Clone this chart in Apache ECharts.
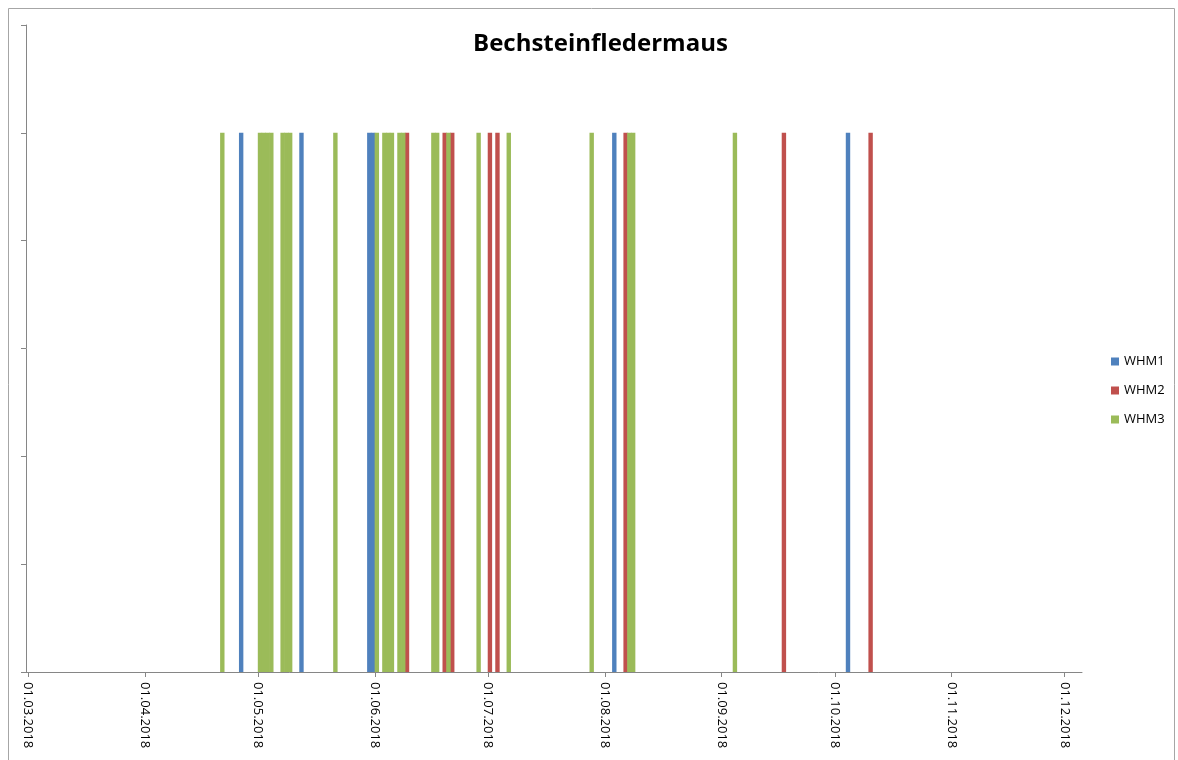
<!DOCTYPE html>
<html>
<head>
<meta charset="utf-8">
<title>Bechsteinfledermaus</title>
<script src="https://cdn.jsdelivr.net/npm/echarts@6/dist/echarts.min.js"></script>
<style>
  html, body {
    margin: 0;
    padding: 0;
    background: #fff;
  }
  #main {
    width: 1178px;
    height: 760px;
  }
</style>
</head>
<body>
<div id="main"></div>
<script>
// Nachweistage je Standort (Tag mit Nachweis = 1)
const whm1Dates = ["2018-04-26", "2018-05-12", "2018-05-30", "2018-05-31", "2018-08-03", "2018-10-04"];
const whm1Values = [1, 1, 1, 1, 1, 1];

const whm2Dates = ["2018-06-09", "2018-06-19", "2018-06-21", "2018-07-01", "2018-07-03", "2018-08-06", "2018-09-17", "2018-10-10"];
const whm2Values = [1, 1, 1, 1, 1, 1, 1, 1];

const whm3Dates = [
  "2018-04-21", "2018-05-01", "2018-05-02", "2018-05-03", "2018-05-04",
  "2018-05-07", "2018-05-08", "2018-05-09", "2018-05-21", "2018-06-01",
  "2018-06-03", "2018-06-04", "2018-06-05", "2018-06-07", "2018-06-08",
  "2018-06-16", "2018-06-17", "2018-06-20", "2018-06-28", "2018-07-06",
  "2018-07-28", "2018-08-07", "2018-08-08", "2018-09-04"
];
const whm3Values = [1, 1, 1, 1, 1, 1, 1, 1, 1, 1, 1, 1, 1, 1, 1, 1, 1, 1, 1, 1, 1, 1, 1, 1];

const seriesNames = ["WHM1", "WHM2", "WHM3"];
const seriesColors = ["#4F81BD", "#C0504D", "#9BBB59"];

const axisMin = "2018-03-01";
const axisMax = "2018-12-05";

// Balken sitzen mitten im Tag (wie in Excel)
function toPoints(dates, values) {
  return dates.map(function (d, i) {
    const p = d.split("-");
    return [new Date(+p[0], +p[1] - 1, +p[2], 12).getTime(), values[i]];
  });
}

function dayStart(d) {
  const p = d.split("-");
  return new Date(+p[0], +p[1] - 1, +p[2]).getTime();
}

function pad(n) {
  return n < 10 ? "0" + n : "" + n;
}

const chart = echarts.init(document.getElementById("main"));

const option = {
  animation: false,
  color: seriesColors,
  textStyle: {
    fontFamily: "Open Sans, Liberation Sans, sans-serif"
  },
  title: {
    text: "Bechsteinfledermaus",
    left: 468,
    top: 27,
    textStyle: {
      fontSize: 24,
      fontWeight: "bold",
      color: "#000",
      fontFamily: "Open Sans, Liberation Sans, sans-serif"
    }
  },
  legend: {
    orient: "vertical",
    left: 1106,
    top: 350,
    itemWidth: 8,
    itemHeight: 8,
    itemGap: 16,
    icon: "rect",
    data: seriesNames,
    textStyle: {
      fontSize: 13,
      color: "#000"
    }
  },
  graphic: [
    {
      type: "rect",
      shape: { x: 8.5, y: 8.5, width: 1166, height: 780 },
      style: { fill: "none", stroke: "#a6a6a6", lineWidth: 1 },
      silent: true
    }
  ],
  grid: {
    left: 26,
    right: 96,
    top: 25,
    bottom: 88
  },
  xAxis: {
    type: "time",
    min: dayStart(axisMin),
    max: dayStart(axisMax),
    minInterval: 28 * 86400000,
    maxInterval: 31 * 86400000,
    splitLine: { show: false },
    axisLine: { lineStyle: { color: "#868686", width: 1 } },
    axisTick: { show: true, length: 5, lineStyle: { color: "#868686" } },
    axisLabel: {
      rotate: -90,
      margin: 10,
      fontSize: 13,
      color: "#000",
      hideOverlap: false,
      formatter: function (v) {
        const d = new Date(v);
        return pad(d.getDate()) + "." + pad(d.getMonth() + 1) + "." + d.getFullYear();
      }
    }
  },
  yAxis: {
    type: "value",
    min: 0,
    max: 1.2,
    interval: 0.2,
    splitLine: { show: false },
    axisLine: { show: true, lineStyle: { color: "#868686", width: 1 } },
    axisTick: { show: true, length: 5, lineStyle: { color: "#868686" } },
    axisLabel: { show: false }
  },
  series: [
    {
      name: seriesNames[0],
      type: "bar",
      barWidth: 4.4,
      barGap: "-100%",
      data: toPoints(whm1Dates, whm1Values)
    },
    {
      name: seriesNames[1],
      type: "bar",
      barWidth: 4.4,
      barGap: "-100%",
      data: toPoints(whm2Dates, whm2Values)
    },
    {
      name: seriesNames[2],
      type: "bar",
      barWidth: 4.4,
      barGap: "-100%",
      data: toPoints(whm3Dates, whm3Values)
    }
  ]
};

chart.setOption(option);
</script>
</body>
</html>
